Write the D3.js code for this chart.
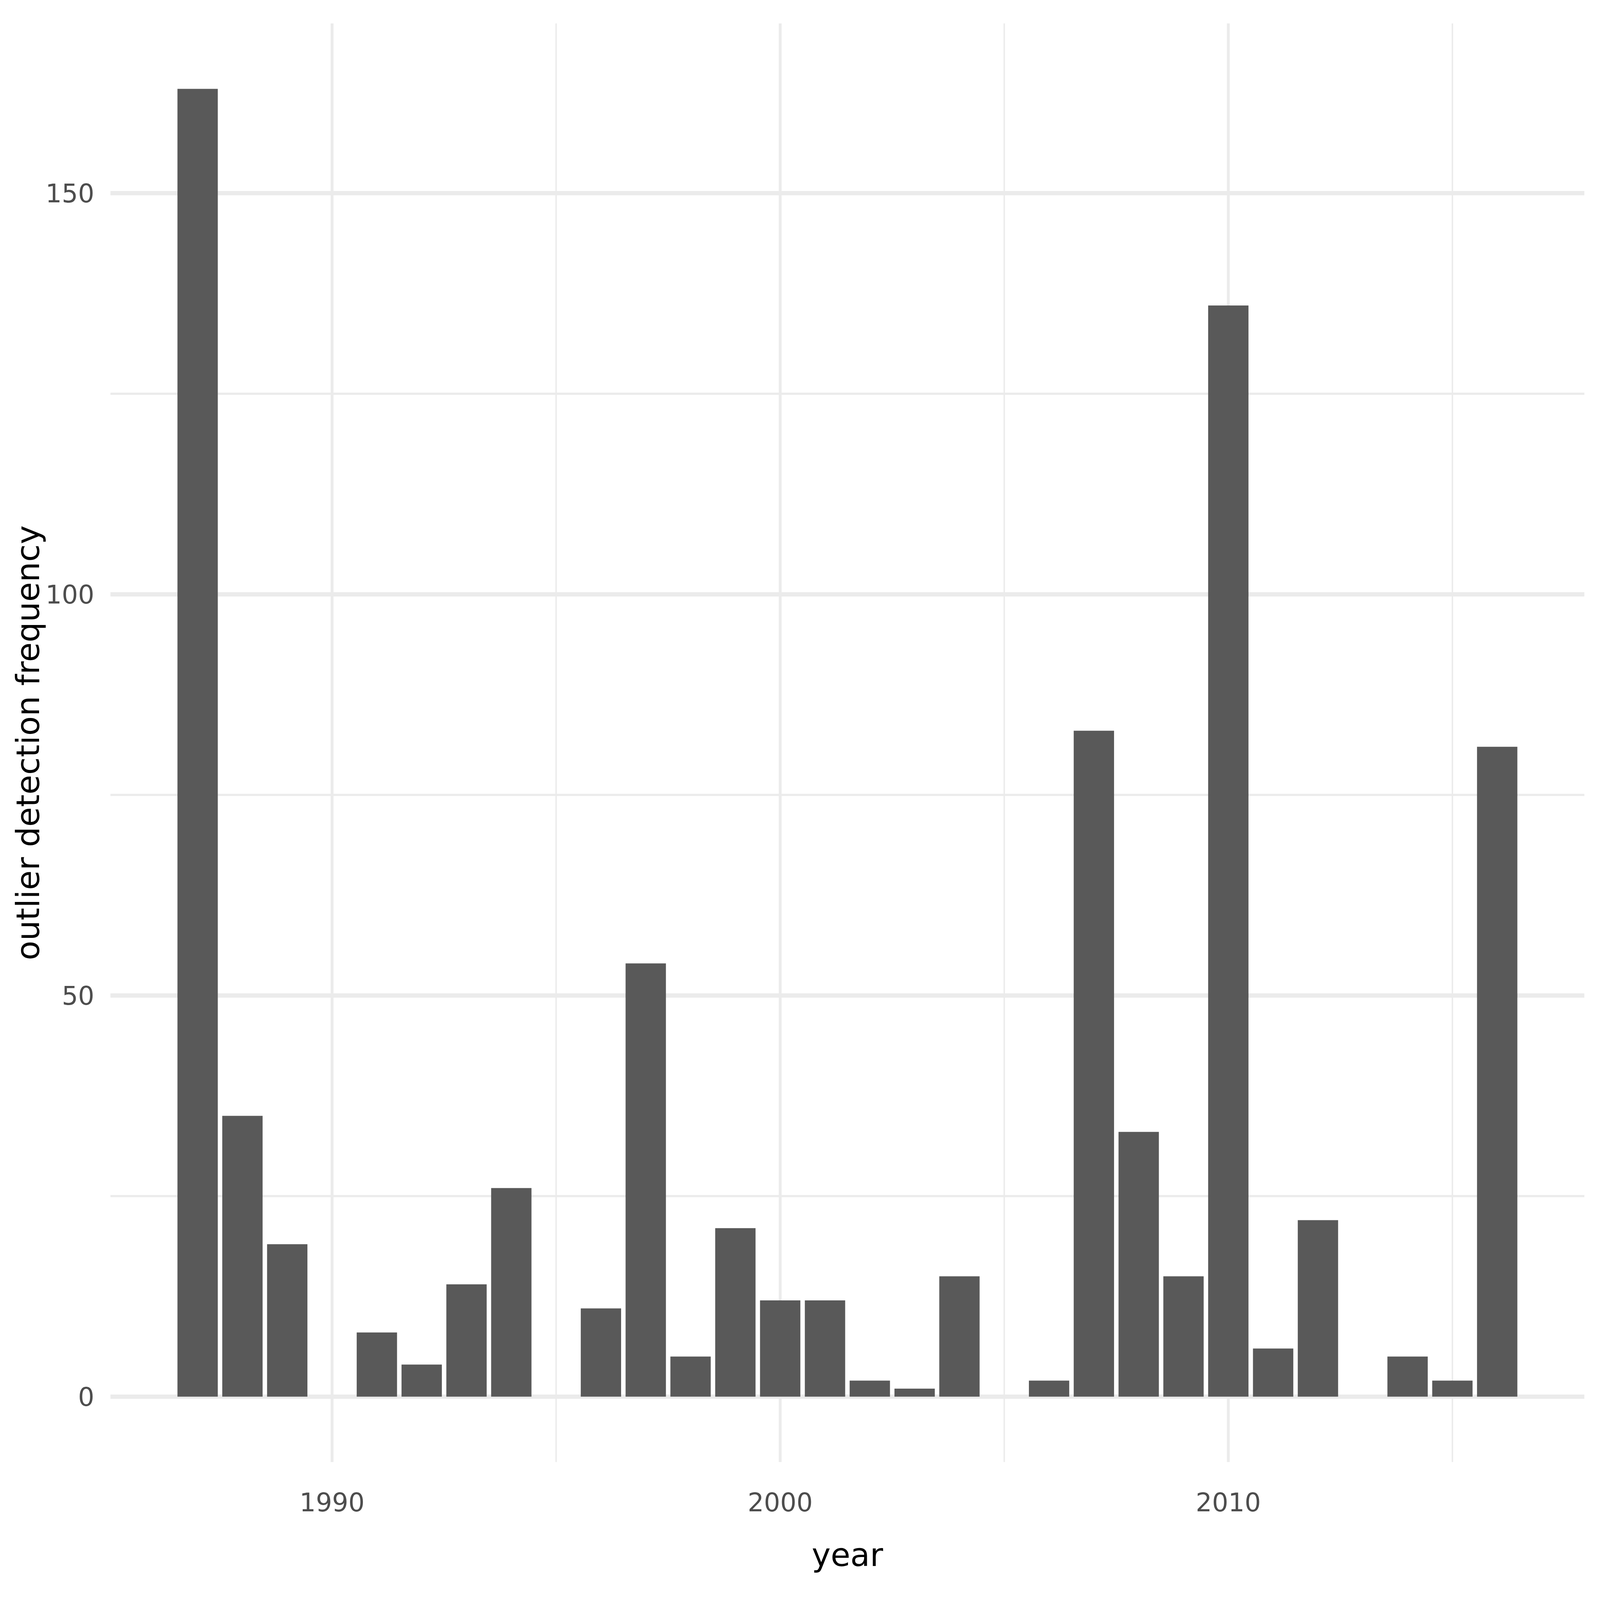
<!DOCTYPE html>
<html>
<head>
<meta charset="utf-8">
<script src="https://cdn.jsdelivr.net/npm/d3@7"></script>
<style>
  html, body { margin: 0; padding: 0; background: #ffffff; overflow: hidden; }
  svg { display: block; }
</style>
</head>
<body>
<div id="chart"></div>
<script>
// Outlier detection counts per year
const years = [1987, 1988, 1989, 1991, 1992, 1993, 1994, 1996, 1997, 1998, 1999, 2000, 2001, 2002, 2003, 2004, 2006, 2007, 2008, 2009, 2010, 2011, 2012, 2014, 2015, 2016];
const counts = [163, 35, 19, 8, 4, 14, 26, 11, 54, 5, 21, 12, 12, 2, 1, 15, 2, 83, 33, 15, 136, 6, 22, 5, 2, 81];

// Axis breaks
const xMajor = [1990, 2000, 2010];
const xMinor = [1995, 2005, 2015];
const yMajor = [0, 50, 100, 150];
const yMinor = [25, 75, 125];

const xTitle = "year";
const yTitle = "outlier detection frequency";

// Layout is laid out for 6750x4500 and stretched to the real window
const baseW = 6750;
const baseH = 4500;
const width = window.innerWidth || baseW;
const height = window.innerHeight || baseH;
const sx = width / baseW;
const sy = height / baseH;
const fs = Math.min(sx, sy);

const panel = { left: 466 * sx, right: 6684 * sx, top: 66 * sy, bottom: 4112 * sy };
const barWidth = 0.9;

const svg = d3.select("#chart").append("svg")
  .attr("width", width)
  .attr("height", height);

svg.append("rect")
  .attr("width", width)
  .attr("height", height)
  .attr("fill", "#ffffff");

// Scales with ggplot style 5% expansion
const xLo = d3.min(years) - barWidth / 2;
const xHi = d3.max(years) + barWidth / 2;
const xPad = (xHi - xLo) * 0.05;
const x = d3.scaleLinear()
  .domain([xLo - xPad, xHi + xPad])
  .range([panel.left, panel.right]);

const yMax = d3.max(counts);
const y = d3.scaleLinear()
  .domain([-yMax * 0.05, yMax * 1.05])
  .range([panel.bottom, panel.top]);

// Grid lines
const grid = svg.append("g").attr("stroke", "#ebebeb");

grid.selectAll(".y-minor").data(yMinor).enter().append("line")
  .attr("x1", panel.left).attr("x2", panel.right)
  .attr("y1", d => y(d)).attr("y2", d => y(d))
  .attr("stroke-width", 6 * sy);

grid.selectAll(".x-minor").data(xMinor).enter().append("line")
  .attr("x1", d => x(d)).attr("x2", d => x(d))
  .attr("y1", panel.top).attr("y2", panel.bottom)
  .attr("stroke-width", 6 * sx);

grid.selectAll(".y-major").data(yMajor).enter().append("line")
  .attr("x1", panel.left).attr("x2", panel.right)
  .attr("y1", d => y(d)).attr("y2", d => y(d))
  .attr("stroke-width", 12 * sy);

grid.selectAll(".x-major").data(xMajor).enter().append("line")
  .attr("x1", d => x(d)).attr("x2", d => x(d))
  .attr("y1", panel.top).attr("y2", panel.bottom)
  .attr("stroke-width", 12 * sx);

// Bars
svg.append("g").selectAll("rect")
  .data(years.map((yr, i) => ({ year: yr, count: counts[i] })))
  .enter().append("rect")
  .attr("x", d => x(d.year - barWidth / 2))
  .attr("width", d => x(d.year + barWidth / 2) - x(d.year - barWidth / 2))
  .attr("y", d => y(d.count))
  .attr("height", d => y(0) - y(d.count))
  .attr("fill", "#595959");

// Tick labels
const font = "'DejaVu Sans', sans-serif";

svg.append("g").selectAll("text")
  .data(yMajor).enter().append("text")
  .attr("x", 398 * sx)
  .attr("y", d => y(d))
  .attr("dy", "0.36em")
  .attr("text-anchor", "end")
  .attr("font-family", font)
  .attr("font-size", 108 * fs)
  .attr("fill", "#4d4d4d")
  .text(d => d);

svg.append("g").selectAll("text")
  .data(xMajor).enter().append("text")
  .attr("x", d => x(d))
  .attr("y", 4251 * sy)
  .attr("text-anchor", "middle")
  .attr("font-family", font)
  .attr("font-size", 108 * fs)
  .attr("fill", "#4d4d4d")
  .text(d => d);

// Axis titles
svg.append("text")
  .attr("x", (panel.left + panel.right) / 2)
  .attr("y", 4404 * sy)
  .attr("text-anchor", "middle")
  .attr("font-family", font)
  .attr("font-size", 135 * fs)
  .attr("fill", "#000000")
  .text(xTitle);

svg.append("text")
  .attr("transform", `translate(${165 * sx}, ${(panel.top + panel.bottom) / 2}) rotate(-90)`)
  .attr("text-anchor", "middle")
  .attr("font-family", font)
  .attr("font-size", 135 * fs)
  .attr("fill", "#000000")
  .text(yTitle);
</script>
</body>
</html>
